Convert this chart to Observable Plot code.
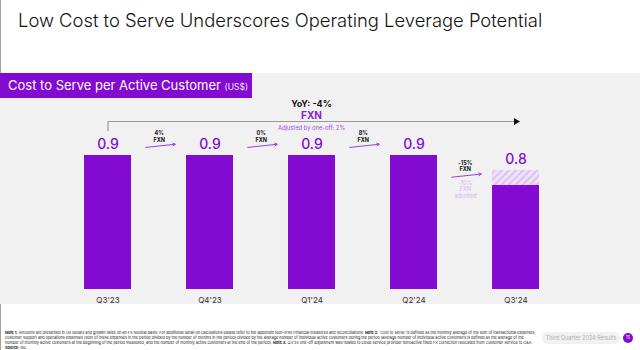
<!DOCTYPE html>
<html>
<head>
<meta charset="utf-8">
<script src="https://cdn.jsdelivr.net/npm/d3@7"></script>
<script src="https://cdn.jsdelivr.net/npm/@observablehq/plot@0.6"></script>
<style>
  html, body { margin: 0; padding: 0; background: #fff; }
  body { width: 640px; height: 350px; position: relative; overflow: hidden; font-family: Inter, "Noto Sans", sans-serif; }
  #edge { position: absolute; left: 0; top: 0; width: 1px; height: 350px; background: #a0a0a0; }
  #title { position: absolute; left: 18px; top: 8px; font-size: 18.4px; line-height: 24px; font-weight: 300; color: #111; white-space: nowrap; }
  #panel { position: absolute; left: 0; top: 73px; width: 640px; height: 231px; background: #f1f1f1; }
  #head { position: absolute; left: 0; top: 73px; width: 252px; height: 25px; background: #820AD1; color: #fff; font-size: 13px; line-height: 25px; padding-left: 8px; box-sizing: border-box; white-space: nowrap; }
  #head small { font-size: 8.5px; opacity: 0.9; }
  #chart { position: absolute; left: 0; top: 98px; }
  #notes { position: absolute; left: 5px; top: 329.5px; width: 533px; font-size: 3.8px; line-height: 5px; color: #222; }
  #pill { position: absolute; left: 542px; top: 332px; width: 78px; height: 12px; border-radius: 6px; background: #f1f1f1; color: #b0b0b0; font-size: 5.5px; line-height: 12px; text-align: center; white-space: nowrap; }
  #page { position: absolute; left: 623px; top: 333px; width: 10px; height: 10px; border-radius: 5px; background: #820AD1; color: #fff; font-size: 4.5px; line-height: 10px; text-align: center; }
</style>
</head>
<body>
<svg width="0" height="0" style="position:absolute">
  <defs>
    <pattern id="hatch" patternUnits="userSpaceOnUse" width="5" height="5" patternTransform="rotate(45)">
      <rect width="5" height="5" fill="#eee3fa"></rect>
      <line x1="1" y1="0" x2="1" y2="5" stroke="#d9c2f5" stroke-width="2"></line>
    </pattern>
  </defs>
</svg>
<div id="edge"></div>
<div id="title">Low Cost to Serve Underscores Operating Leverage Potential</div>
<div id="panel"></div>
<div id="head">Cost to Serve per Active Customer <small>(US$)</small></div>
<div id="chart"></div>
<div id="notes"><b>Note 1:</b> Amounts are presented in US dollars and growth rates on an FX Neutral basis. For additional detail on calculations please refer to the appendix Non-IFRS Financial measures and reconciliations. <b>Note 2:</b> 'Cost to serve' is defined as the monthly average of the sum of transactional expenses, customer support and operations expenses (sum of these expenses in the period divided by the number of months in the period) divided by the average number of individual active customers during the period (average number of individual active customers is defined as the average of the number of monthly active customers at the beginning of the period measured, and the number of monthly active customers at the end of the period). <b>Note 3:</b> Q3'24 one-off adjustment was related to cloud service provider retroactive fixed FX correction relocated from Customer Service to G&amp;A. <b>Source:</b> Nu.</div>
<div id="pill">Third Quarter 2024 Results</div>
<div id="page">15</div>
<script>
// ---- data ----
const quarters = ["Q3'23", "Q4'23", "Q1'24", "Q2'24", "Q3'24"];
const reported = [0.9, 0.9, 0.9, 0.9, 0.8];      // labelled values (US$)
const solidBar = [0.9, 0.9, 0.9, 0.9, 0.7];      // solid bar height
const qoqChange = ["4%", "0%", "8%", "-15%"];    // change between successive quarters, FXN
const qoqAdjusted = [null, null, null, "-10%"];  // FXN adjusted change
const yoyLabel = "YoY: -4%";
const yoySub = "FXN";
const yoyAdjusted = "Adjusted by one-off: 2%";

// ---- layout ----
const PURPLE = "#820AD1";
const W = 640, H = 206, MT = 57, MB = 15, ML = 27, MR = 45, PAD = 0.54;
const yMax = d3.max(reported);
const pxv = yMax / (H - MT - MB);            // value units per pixel
const step = (W - ML - MR) / (quarters.length + PAD);

const bars = quarters.map((q, i) => ({q, reported: reported[i], solid: solidBar[i]}));
const changes = qoqChange.map((c, i) => ({from: quarters[i], to: quarters[i + 1], base: solidBar[i + 1], label: c, adj: qoqAdjusted[i]}));
const bracketTop = yMax + 34 * pxv;
const bracketBottom = yMax + 24 * pxv;

const chart = Plot.plot({
  width: W, height: H,
  marginTop: MT, marginBottom: MB, marginLeft: ML, marginRight: MR,
  style: {background: "transparent", fontFamily: "Inter, 'Noto Sans', sans-serif", fontSize: "8px", color: "#333"},
  x: {domain: quarters, padding: PAD, tickSize: 0, tickPadding: 8, label: null},
  y: {domain: [0, yMax], axis: null},
  marks: [
    Plot.barY(bars, {x: "q", y: "solid", fill: PURPLE}),
    Plot.barY(bars.filter(d => d.reported > d.solid), {x: "q", y1: "solid", y2: "reported", fill: "url(#hatch)"}),
    Plot.text(bars, {x: "q", y: "reported", text: d => d.reported.toFixed(1), dy: -10.5, fontSize: 14, fontWeight: 500, fill: PURPLE}),
    Plot.arrow(changes, {x1: "from", x2: "to", y1: d => d.base + 4 * pxv, y2: d => d.base + 15 * pxv, insetStart: 38, insetEnd: 35, stroke: "#9a3de6", strokeWidth: 1, headLength: 4}),
    Plot.text(changes, {x: "from", y: d => d.base + 19 * pxv, dx: step / 2, text: d => `${d.label}\nFXN`, fontSize: 5.5, fontWeight: 700, lineHeight: 1.15, fill: "#111"}),
    Plot.text(changes.filter(d => d.adj), {x: "from", y: d => d.base - 4 * pxv, dx: step / 2, text: d => `${d.adj}\nFXN\nadjusted`, fontSize: 5.5, lineHeight: 1.25, fill: "#d3b6f2"}),
    Plot.ruleX([quarters[0]], {x: d => d, y1: bracketBottom, y2: bracketTop, stroke: "#9a9a9a", strokeWidth: 1.2}),
    Plot.link([{a: quarters[0], b: quarters[quarters.length - 1]}], {x1: "a", x2: "b", y1: bracketTop, y2: bracketTop, stroke: "#9a9a9a", strokeWidth: 1.2}),
    Plot.dot([quarters[quarters.length - 1]], {x: d => d, y: bracketTop, symbol: "triangle", rotate: 90, r: 2.6, fill: "#111", stroke: "none"}),
    Plot.text([yoyLabel], {y: bracketTop, frameAnchor: "middle", text: d => d, dy: -17, fontSize: 9, fontWeight: 700, fill: "#111"}),
    Plot.text([yoySub], {y: bracketTop, frameAnchor: "middle", text: d => d, dy: -5.5, fontSize: 10, fontWeight: 700, fill: "#8a1fd6"}),
    Plot.text([yoyAdjusted], {y: bracketTop, frameAnchor: "middle", text: d => d, dy: 7, fontSize: 5.8, fill: "#9d4fe3"})
  ]
});
document.getElementById("chart").appendChild(chart);
</script>
</body>
</html>
